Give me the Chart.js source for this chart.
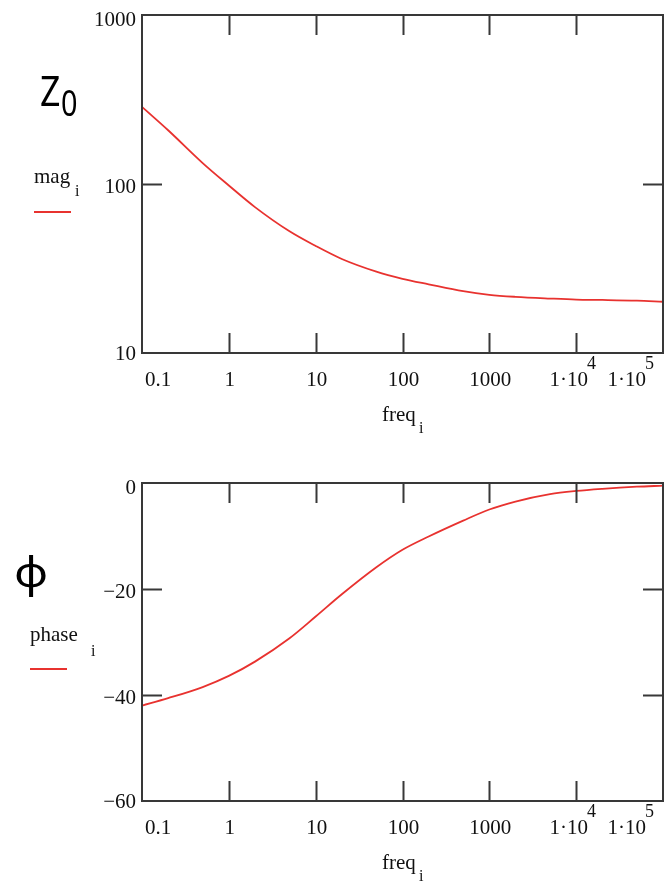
<!DOCTYPE html>
<html>
<head>
<meta charset="utf-8">
<script src="https://cdn.jsdelivr.net/npm/chart.js@4/dist/chart.umd.min.js"></script>
<style>
  html, body { margin: 0; padding: 0; background: #fff; }
  #wrap { position: relative; width: 664px; height: 884px; overflow: hidden; background: #fff; }
  canvas { position: absolute; left: 0; }
  .t { position: absolute; white-space: nowrap; line-height: 1; color: #111; }
  .serif { font-family: "Liberation Serif", "Times New Roman", serif; }
  .sans { font-family: "Noto Sans", "Liberation Sans", sans-serif; color: #000; }
  .leg { position: absolute; height: 2px; background: #e8322f; }
</style>
</head>
<body>
<div id="wrap">
  <canvas id="c1" width="664" height="450" style="top:0"></canvas>
  <canvas id="c2" width="664" height="434" style="top:450px"></canvas>

  <div class="t sans" style="left:40px; top:69px; font-size:42px; transform:scaleX(0.85); transform-origin:0 0;">Z</div>
  <div class="t sans" style="left:61px; top:85px; font-size:36px; transform:scaleX(0.8); transform-origin:0 0;">0</div>
  <div class="t serif" style="left:34px; top:166px; font-size:21px;">mag</div>
  <div class="t serif" style="left:75px; top:183px; font-size:16px;">i</div>
  <div class="leg" style="left:34px; top:211px; width:37px;"></div>

  <div class="t serif" style="left:382px; top:404px; font-size:21px;">freq</div>
  <div class="t serif" style="left:419px; top:420px; font-size:16px;">i</div>

  <div class="t sans" style="left:14px; top:550px; font-size:42px; transform:scaleX(1.12); transform-origin:0 0;">ϕ</div>
  <div class="t serif" style="left:30px; top:624px; font-size:21px;">phase</div>
  <div class="t serif" style="left:91px; top:643px; font-size:16px;">i</div>
  <div class="leg" style="left:30px; top:668px; width:37px;"></div>

  <div class="t serif" style="left:382px; top:852px; font-size:21px;">freq</div>
  <div class="t serif" style="left:419px; top:868px; font-size:16px;">i</div>
</div>
<script>
// ---- data ----
const freq  = [0.1, 0.2, 0.5, 1, 2, 5, 10, 20, 50, 100, 200, 500, 1000, 2000, 5000, 1e4, 2e4, 5e4, 1e5];
const mag   = [286, 208, 133, 98, 73, 52.5, 43, 36, 30.3, 27.5, 25.5, 23.2, 22.1, 21.5, 21.0, 20.7, 20.6, 20.4, 20.1];
const phase = [-42.0, -40.6, -38.5, -36.4, -33.7, -29.3, -25.2, -21.0, -15.9, -12.6, -10.1, -7.1, -5.0, -3.5, -2.1, -1.5, -1.1, -0.7, -0.5];

const xTicks      = [0.1, 1, 10, 100, 1000, 1e4, 1e5];
const xTickLabels = ['0.1', '1', '10', '100', '1000', '1·10^4', '1·10^5'];
const magTicks      = [10, 100, 1000];
const magTickLabels = ['10', '100', '1000'];
const phaseTicks      = [-60, -40, -20, 0];
const phaseTickLabels = ['\u221260', '\u221240', '\u221220', '0'];

const LINE = '#e8322f';
const FRAME = '#383838';
const TEXT = '#111';
const MAIN_FONT = '21px "Liberation Serif", "Times New Roman", serif';
const EXP_FONT = '18px "Liberation Serif", "Times New Roman", serif';

function drawXLabel(ctx, label, x, baseline, align) {
  let mant = label, exp = '';
  if (label.includes('^')) { [mant, exp] = label.split('^'); }
  ctx.font = MAIN_FONT;
  const wm = ctx.measureText(mant).width;
  ctx.font = EXP_FONT;
  const we = exp ? ctx.measureText(exp).width : 0;
  const total = wm + we;
  let start = x;
  if (align === 'center') start = x - total / 2;
  else if (align === 'right') start = x - total;
  ctx.textAlign = 'left';
  ctx.textBaseline = 'alphabetic';
  ctx.font = MAIN_FONT;
  ctx.fillText(mant, start, baseline);
  if (exp) {
    ctx.font = EXP_FONT;
    ctx.fillText(exp, start + wm - 1, baseline - 17);
  }
}

function mathcadFrame(yTicks, yLabels) {
  return {
    id: 'mathcadFrame',
    afterDraw(chart) {
      const { ctx, chartArea: a } = chart;
      const xs = chart.scales.x, ys = chart.scales.y;
      const TL = 20;
      ctx.save();
      ctx.strokeStyle = FRAME;
      ctx.lineWidth = 2;
      ctx.strokeRect(a.left, a.top, a.right - a.left, a.bottom - a.top);
      ctx.beginPath();
      xTicks.forEach(v => {
        const px = Math.round(xs.getPixelForValue(v)) + 0.5;
        if (px > a.left + 3 && px < a.right - 3) {
          ctx.moveTo(px, a.bottom); ctx.lineTo(px, a.bottom - TL);
          ctx.moveTo(px, a.top);    ctx.lineTo(px, a.top + TL);
        }
      });
      yTicks.forEach(v => {
        const py = Math.round(ys.getPixelForValue(v)) + 0.5;
        if (py > a.top + 3 && py < a.bottom - 3) {
          ctx.moveTo(a.left, py);  ctx.lineTo(a.left + TL, py);
          ctx.moveTo(a.right, py); ctx.lineTo(a.right - TL, py);
        }
      });
      ctx.stroke();

      ctx.fillStyle = TEXT;
      ctx.font = MAIN_FONT;
      ctx.textAlign = 'right';
      ctx.textBaseline = 'middle';
      yTicks.forEach((v, i) => {
        let py = ys.getPixelForValue(v) + 3;
        if (py < a.top + 5) py = a.top + 5;
        if (py > a.bottom + 1) py = a.bottom + 1;
        ctx.fillText(yLabels[i], a.left - 6, py);
      });
      const base = a.bottom + 33;
      xTicks.forEach((v, i) => {
        const px = xs.getPixelForValue(v);
        if (i === 0) drawXLabel(ctx, xTickLabels[i], a.left + 3, base, 'left');
        else if (i === xTicks.length - 1) drawXLabel(ctx, xTickLabels[i], a.right - 8, base, 'right');
        else if (i === xTicks.length - 2) drawXLabel(ctx, xTickLabels[i], px - 3, base, 'center');
        else drawXLabel(ctx, xTickLabels[i], px + 1, base, 'center');
      });
      ctx.restore();
    }
  };
}

function makeChart(id, values, yType, yMin, yMax, yTicks, yLabels, padding) {
  return new Chart(document.getElementById(id), {
    type: 'line',
    data: {
      datasets: [{
        data: freq.map((f, i) => ({ x: f, y: values[i] })),
        borderColor: LINE,
        borderWidth: 1.8,
        pointRadius: 0,
        fill: false,
        cubicInterpolationMode: 'monotone'
      }]
    },
    options: {
      responsive: false,
      animation: false,
      events: [],
      layout: { padding },
      plugins: { legend: { display: false }, tooltip: { enabled: false } },
      scales: {
        x: { type: 'logarithmic', min: 0.1, max: 1e5, display: false },
        y: { type: yType, min: yMin, max: yMax, display: false }
      }
    },
    plugins: [mathcadFrame(yTicks, yLabels)]
  });
}

makeChart('c1', mag, 'logarithmic', 10, 1000, magTicks, magTickLabels,
  { left: 142, right: 1, top: 15, bottom: 97 });
makeChart('c2', phase, 'linear', -60, 0, phaseTicks, phaseTickLabels,
  { left: 142, right: 1, top: 33, bottom: 83 });
</script>
</body>
</html>
